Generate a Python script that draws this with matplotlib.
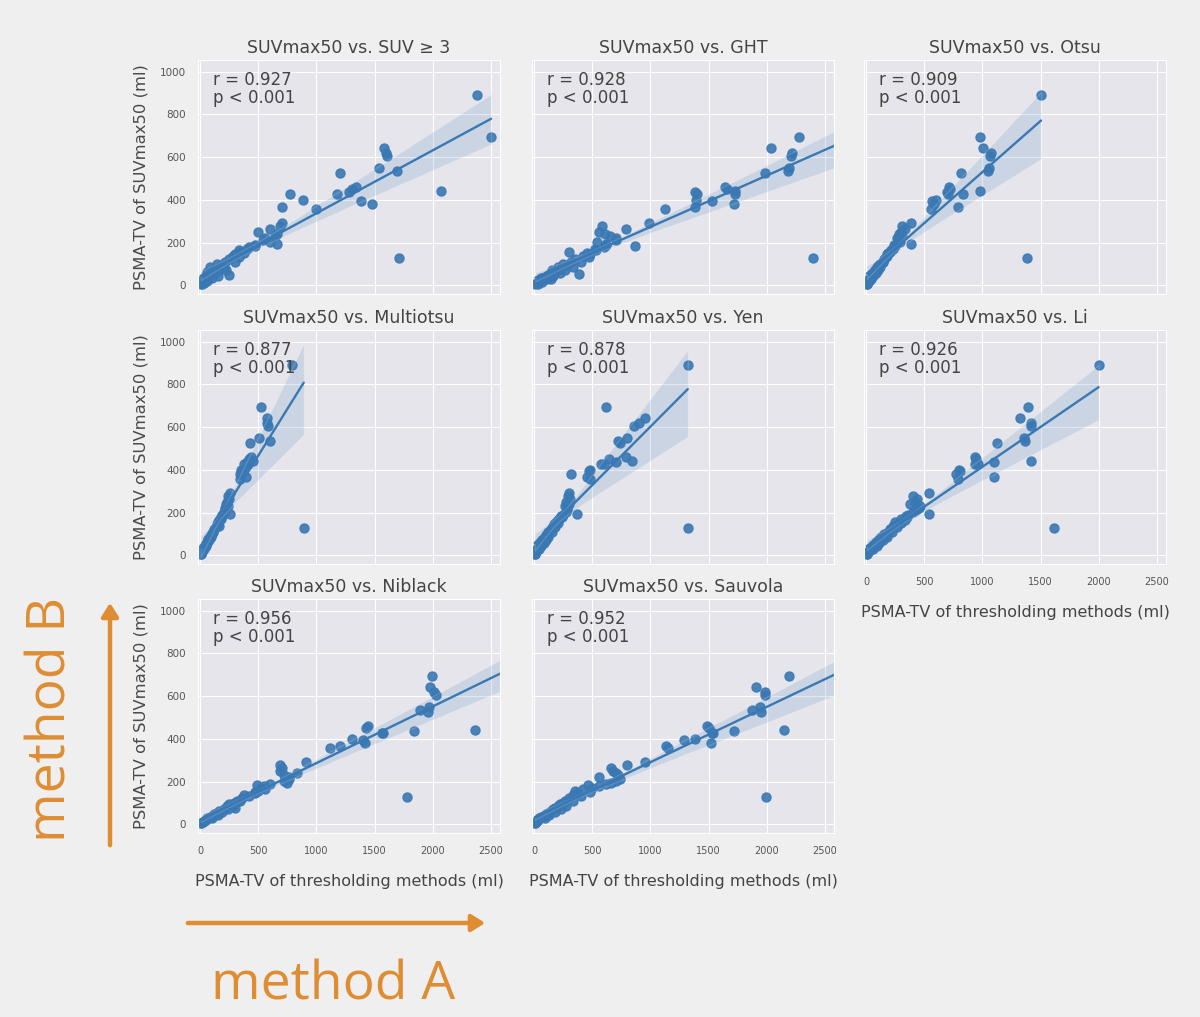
import numpy as np
import matplotlib.pyplot as plt
import seaborn as sns
from matplotlib.patches import FancyArrowPatch

# PSMA-TV of SUVmax50 (ml), same patients in every panel
suvmax50 = [889, 693, 642, 622, 604, 551, 534, 524, 461, 450,
            441, 438, 430, 426, 399, 394, 379, 368, 357, 127,
            291, 278, 262, 252, 243, 232, 220, 196, 185, 172,
            165, 158, 148, 138, 125, 112, 102, 94, 86, 78,
            70, 62, 55, 47, 40, 34, 28, 22, 17, 12,
            8, 5,
            214, 205, 190, 178, 152, 132, 108, 88, 72, 58,
            44, 30]

# PSMA-TV of the thresholding methods (ml)
suv3_x = [2383, 2503, 1584, 1595, 1607, 1535, 1690, 1199, 1336, 1310,
          2069, 1284, 1176, 776, 885, 1381, 1478, 699, 999, 1707,
          699, 690, 599, 499, 656, 640, 560, 656, 470, 400,
          330, 345, 300, 280, 250, 210, 143, 180, 86, 120,
          160, 60, 90, 243, 40, 100, 20, 55, 10, 30,
          5, 15,
          540, 600, 470, 420, 380, 330, 300, 200, 220, 130,
          150, 70]
ght_x = [3400, 2277, 2040, 2220, 2210, 2192, 2185, 1984, 1641, 1660,
         1727, 1384, 1400, 1730, 1390, 1527, 1721, 1384, 1127, 2397,
         985, 585, 785, 560, 610, 650, 700, 620, 870, 520,
         528, 300, 480, 420, 350, 320, 250, 280, 200, 230,
         150, 180, 385, 120, 90, 60, 140, 40, 70, 20,
         10, 30,
         700, 540, 620, 600, 450, 470, 400, 330, 260, 220,
         160, 110]
otsu_x = [1504, 982, 1002, 1076, 1067, 1060, 1050, 819, 711, 720,
          982, 697, 830, 700, 597, 568, 580, 790, 560, 1387,
          383, 311, 330, 300, 280, 310, 260, 383, 250, 230,
          210, 200, 180, 175, 150, 140, 120, 110, 95, 90,
          75, 70, 55, 60, 40, 35, 25, 20, 15, 10,
          8, 5,
          270, 290, 240, 235, 190, 170, 145, 120, 100, 80,
          60, 40]
multiotsu_x = [790, 522, 571, 575, 585, 505, 599, 428, 440, 420,
               457, 400, 380, 410, 350, 370, 340, 390, 345, 890,
               255, 240, 245, 230, 225, 235, 210, 255, 190, 175,
               160, 150, 140, 165, 120, 110, 100, 90, 80, 70,
               65, 55, 45, 40, 30, 25, 20, 15, 12, 8,
               5, 3,
               215, 200, 185, 180, 150, 135, 110, 90, 75, 60,
               45, 30]
yen_x = [1321, 613, 956, 900, 856, 799, 719, 740, 785, 642,
         842, 700, 600, 570, 480, 471, 314, 457, 480, 1321,
         300, 290, 310, 270, 300, 260, 280, 371, 230, 210,
         200, 190, 170, 160, 140, 120, 115, 100, 90, 80,
         70, 60, 50, 45, 35, 30, 22, 18, 12, 8,
         5, 3,
         280, 270, 250, 240, 200, 180, 150, 120, 100, 80,
         60, 40]
li_x = [2000, 1394, 1322, 1422, 1420, 1360, 1370, 1129, 937, 940,
        1422, 1100, 935, 960, 800, 810, 771, 1100, 790, 1617,
        537, 400, 440, 420, 380, 460, 450, 537, 343, 300,
        330, 250, 270, 230, 200, 190, 150, 170, 130, 110,
        120, 80, 90, 60, 50, 40, 30, 25, 15, 10,
        8, 5,
        430, 400, 360, 350, 300, 260, 220, 180, 140, 110,
        90, 60]
niblack_x = [3000, 1998, 1978, 2010, 2026, 1969, 1888, 1960, 1441, 1430,
             2369, 1841, 1560, 1570, 1310, 1399, 1420, 1199, 1113, 1783,
             913, 685, 700, 690, 830, 720, 760, 742, 485, 520,
             560, 500, 470, 380, 360, 320, 290, 250, 230, 300,
             200, 160, 140, 120, 100, 80, 60, 50, 30, 20,
             10, 5,
             760, 720, 600, 550, 470, 420, 340, 280, 240, 190,
             150, 100]
sauvola_x = [3100, 2196, 1912, 1983, 1983, 1940, 1870, 1950, 1487, 1500,
             2153, 1722, 1530, 1540, 1385, 1285, 1523, 1132, 1150, 1997,
             952, 800, 664, 680, 700, 720, 560, 664, 466, 500,
             420, 350, 380, 330, 300, 260, 250, 220, 200, 180,
             160, 140, 120, 100, 80, 60, 40, 30, 20, 15,
             10, 5,
             740, 700, 620, 560, 480, 400, 330, 270, 230, 180,
             130, 90]

methods = ['SUV \u2265 3', 'GHT', 'Otsu', 'Multiotsu', 'Yen', 'Li', 'Niblack', 'Sauvola']
method_x = [suv3_x, ght_x, otsu_x, multiotsu_x, yen_x, li_x, niblack_x, sauvola_x]
r_values = ['0.927', '0.928', '0.909', '0.877', '0.878', '0.926', '0.956', '0.952']

sns.set_style('darkgrid', {'axes.facecolor': '#e5e5eb', 'grid.color': 'white',
                           'figure.facecolor': '#efefef'})
plt.rcParams['font.family'] = ['DejaVu Sans']

blue = '#3a78b4'
text_col = '#444444'
orange = '#de8d33'

fig = plt.figure(figsize=(12, 10.17), dpi=100)
fig.patch.set_facecolor('#efefef')

# axes boxes in figure pixels
col_left = [198, 532, 864]
row_bottom = [294, 564, 833]
ax_w, ax_h = 302, 234
W, H = 1200, 1017

first = None
for i, (name, xs, r) in enumerate(zip(methods, method_x, r_values)):
    row, col = divmod(i, 3)
    rect = [col_left[col] / W, 1 - row_bottom[row] / H, ax_w / W, ax_h / H]
    ax = fig.add_axes(rect, sharex=first, sharey=first)
    if first is None:
        first = ax

    sns.regplot(x=np.array(xs, dtype=float), y=np.array(suvmax50, dtype=float), ax=ax,
                color=blue, seed=1, scatter_kws={'s': 42, 'alpha': 0.9},
                line_kws={'lw': 1.7})

    ax.set_xlim(-20, 2580)
    ax.set_ylim(-40, 1055)
    ax.set_xticks([0, 500, 1000, 1500, 2000, 2500])
    ax.set_yticks([0, 200, 400, 600, 800, 1000])
    ax.set_title('SUVmax50 vs. ' + name, fontsize=12.5, color=text_col, pad=5)

    ax.text(0.05, 0.955, 'r = ' + r + '\np < 0.001', transform=ax.transAxes,
            ha='left', va='top', fontsize=12, color=text_col, linespacing=1.05)

    show_x = name in ('Li', 'Niblack', 'Sauvola')
    show_y = col == 0
    ax.tick_params(axis='x', labelbottom=show_x, labelsize=7, colors='#555555', pad=6)
    ax.tick_params(axis='y', labelleft=show_y, labelsize=7.5, colors='#555555', pad=5)
    ax.set_xlabel('PSMA-TV of thresholding methods (ml)' if show_x else '',
                  fontsize=11.5, color=text_col, labelpad=13)
    ax.set_ylabel('PSMA-TV of SUVmax50 (ml)' if show_y else '',
                  fontsize=11.8, color='#4a4a4a', labelpad=8)

# orange direction arrows
arrow_a = FancyArrowPatch((185 / W, 1 - 923 / H), (488 / W, 1 - 923 / H),
                          transform=fig.transFigure, arrowstyle='-|>,head_length=8,head_width=5',
                          color=orange, lw=3.2, mutation_scale=1)
arrow_b = FancyArrowPatch((110 / W, 1 - 848 / H), (110 / W, 1 - 600 / H),
                          transform=fig.transFigure, arrowstyle='-|>,head_length=8,head_width=5',
                          color=orange, lw=3.2, mutation_scale=1)
fig.add_artist(arrow_a)
fig.add_artist(arrow_b)

fig.text(333 / W, 1 - 1000 / H, 'method A', ha='center', va='baseline',
         fontsize=38.5, color=orange, family=['Open Sans', 'DejaVu Sans'])
fig.text(52 / W, 1 - 719 / H, 'method B', ha='center', va='center', rotation=90,
         fontsize=38.5, color=orange, family=['Open Sans', 'DejaVu Sans'])

fig.savefig('out.png', dpi=100, facecolor=fig.get_facecolor())
